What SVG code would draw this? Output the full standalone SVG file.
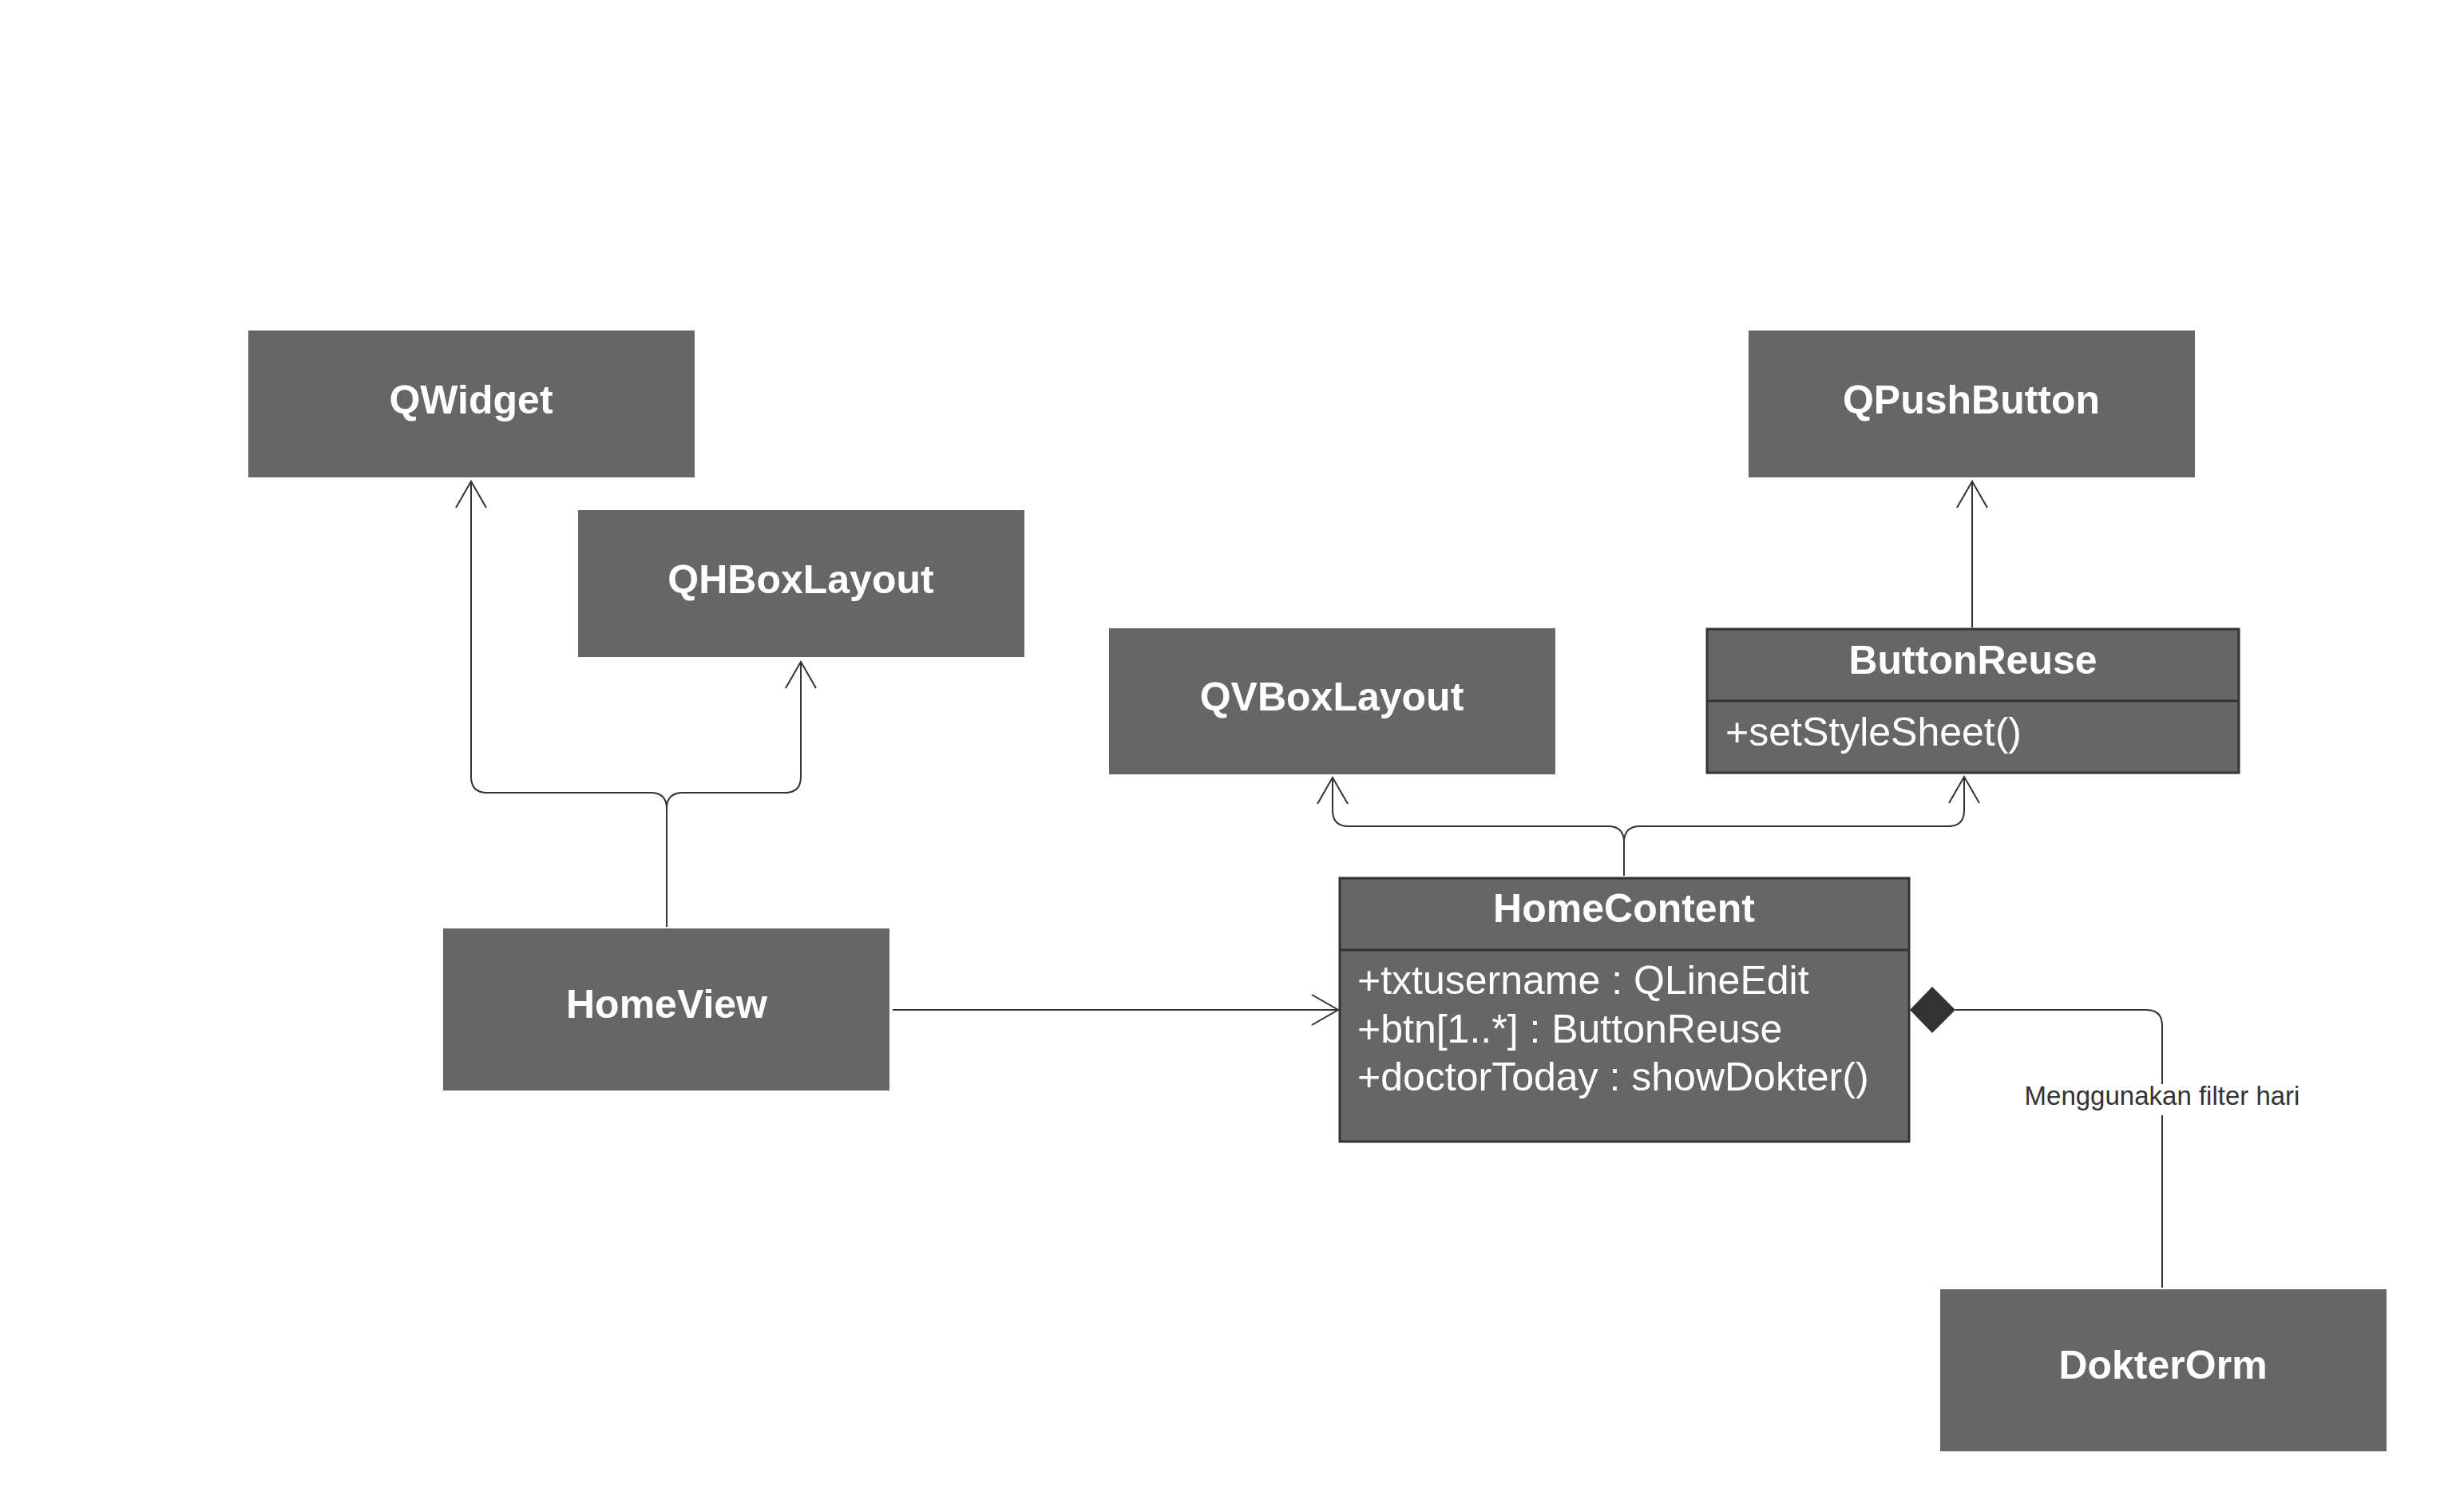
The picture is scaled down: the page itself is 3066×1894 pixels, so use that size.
<svg xmlns="http://www.w3.org/2000/svg" width="3066" height="1894" viewBox="0 0 3066 1894">
<style>
.box{fill:#666666;}
.cls{fill:#666666;stroke:#333333;stroke-width:3;}
.div{stroke:#333333;stroke-width:3;}
.t{font-family:"Liberation Sans",Arial,sans-serif;font-weight:bold;font-size:50px;fill:#ffffff;text-anchor:middle;}
.a{font-family:"Liberation Sans",Arial,sans-serif;font-size:50px;fill:#ffffff;}
.c{fill:none;stroke:#333333;stroke-width:2;}
.lbl{font-family:"Liberation Sans",Arial,sans-serif;font-size:33px;fill:#333333;text-anchor:middle;}
</style>
<defs>
<marker id="open" markerUnits="userSpaceOnUse" markerWidth="40" markerHeight="44" viewBox="-36 -22 40 44" refX="0" refY="0" orient="auto">
<path d="M-33,-19 L0,0 L-33,19" fill="none" stroke="#333333" stroke-width="2"/>
</marker>
</defs>
<rect width="3066" height="1894" fill="#ffffff"/>

<g id="connectors">
<path class="c" d="M835,1161 V1013 Q835,993 815,993 H610 Q590,993 590,973 V603" marker-end="url(#open)"/>
<path class="c" d="M835,1013 Q835,993 855,993 H983 Q1003,993 1003,973 V829" marker-end="url(#open)"/>
<path class="c" d="M2034,1097 V1055 Q2034,1035 2014,1035 H1689 Q1669,1035 1669,1015 V974" marker-end="url(#open)"/>
<path class="c" d="M2034,1055 Q2034,1035 2054,1035 H2440 Q2460,1035 2460,1015 V973" marker-end="url(#open)"/>
<path class="c" d="M2470,786 V603" marker-end="url(#open)"/>
<path class="c" d="M1118,1265 H1676" marker-end="url(#open)"/>
<path class="c" d="M2449,1265 H2688 Q2708,1265 2708,1285 V1613"/>
<polygon points="2392,1265 2420,1236 2449,1265 2420,1294" fill="#333333"/>
<rect x="2530" y="1358" width="356" height="39" fill="#ffffff"/>
<text class="lbl" x="2708" y="1384">Menggunakan filter hari</text>
</g>

<g id="QWidget">
<rect class="box" x="311" y="414" width="559" height="184"/>
<text class="t" x="590" y="518">QWidget</text>
</g>

<g id="QHBoxLayout">
<rect class="box" x="724" y="639" width="559" height="184"/>
<text class="t" x="1003" y="743">QHBoxLayout</text>
</g>

<g id="QPushButton">
<rect class="box" x="2190" y="414" width="559" height="184"/>
<text class="t" x="2469" y="518">QPushButton</text>
</g>

<g id="QVBoxLayout">
<rect class="box" x="1389" y="787" width="559" height="183"/>
<text class="t" x="1668" y="890">QVBoxLayout</text>
</g>

<g id="ButtonReuse">
<rect class="cls" x="2138" y="788" width="666" height="180"/>
<line class="div" x1="2138" y1="878" x2="2804" y2="878"/>
<text class="t" x="2471" y="844">ButtonReuse</text>
<text class="a" x="2161" y="934">+setStyleSheet()</text>
</g>

<g id="HomeView">
<rect class="box" x="555" y="1163" width="559" height="203"/>
<text class="t" x="835" y="1275">HomeView</text>
</g>

<g id="HomeContent">
<rect class="cls" x="1678" y="1100" width="713" height="330"/>
<line class="div" x1="1678" y1="1190" x2="2391" y2="1190"/>
<text class="t" x="2034" y="1155">HomeContent</text>
<text class="a" x="1700" y="1245">+txtusername : QLineEdit</text>
<text class="a" x="1700" y="1306">+btn[1..*] : ButtonReuse</text>
<text class="a" x="1700" y="1366">+doctorToday : showDokter()</text>
</g>

<g id="DokterOrm">
<rect class="box" x="2430" y="1615" width="559" height="203"/>
<text class="t" x="2709" y="1727">DokterOrm</text>
</g>
</svg>
